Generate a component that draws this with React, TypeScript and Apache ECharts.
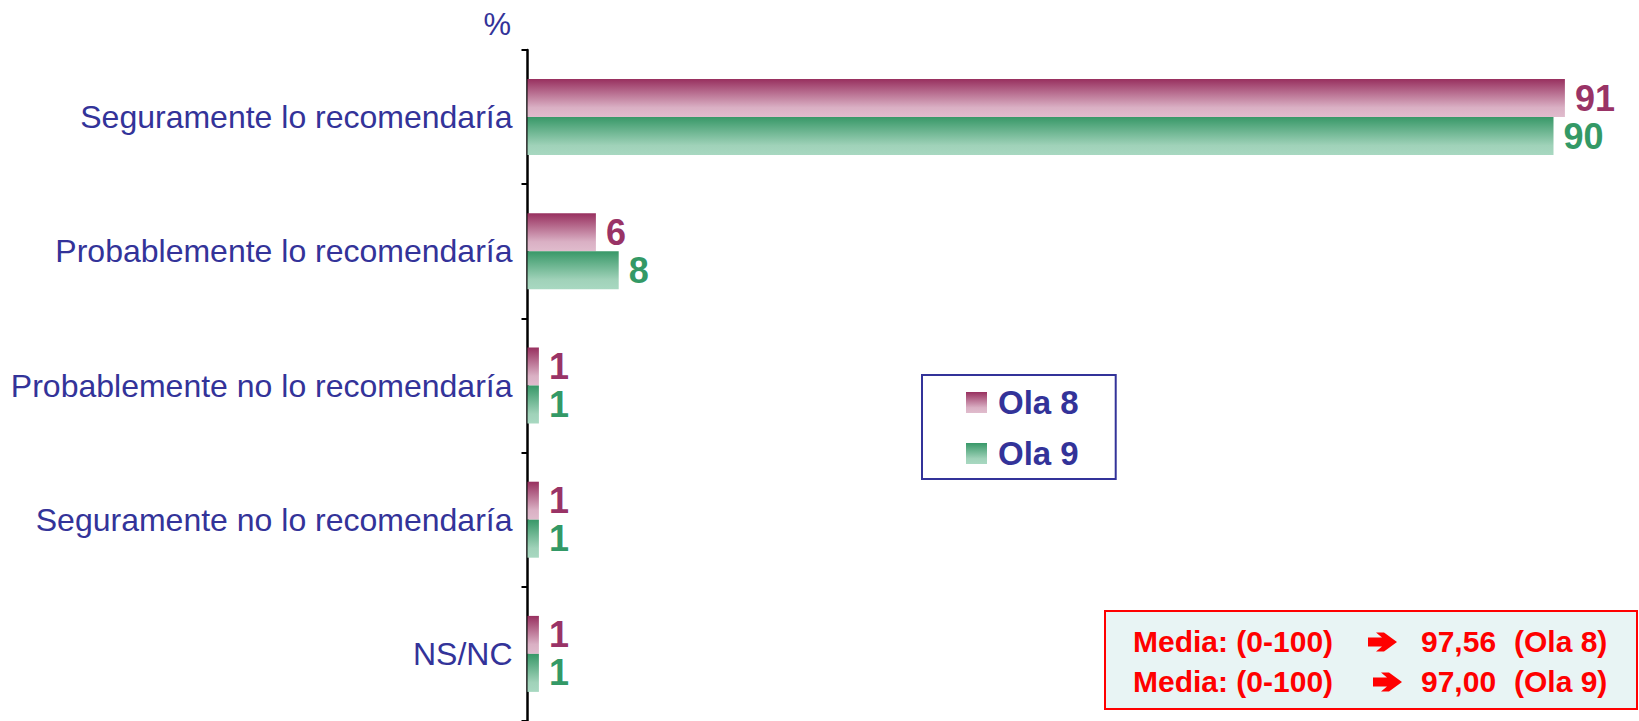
import React, { useEffect, useRef } from "react";
import * as echarts from "echarts";

// Survey answers, top to bottom
const categories = [
  "Seguramente lo recomendaría",
  "Probablemente lo recomendaría",
  "Probablemente no lo recomendaría",
  "Seguramente no lo recomendaría",
  "NS/NC",
];

const seriesNames = ["Ola 8", "Ola 9"];
const ola8 = [91, 6, 1, 1, 1];
const ola9 = [90, 8, 1, 1, 1];

// Mean score summary lines
const mediaLabel = "Media: (0-100)";
const mediaValues = ["97,56", "97,00"];
const mediaWaves = ["(Ola 8)", "(Ola 9)"];

const FONT = "'Liberation Sans', Arial, sans-serif";
const BLUE = "#333399";
const RED = "#ff0000";

const grad = (top: string, mid: string, bottom: string) =>
  new echarts.graphic.LinearGradient(0, 0, 0, 1, [
    { offset: 0, color: top },
    { offset: 0.75, color: mid },
    { offset: 1, color: bottom },
  ]);

// Heavy right arrow, centred vertically on y = 0
const arrowPoints = [
  [0, -4.5], [14, -4.5], [8, -9.5], [16, -9.5], [29, 0],
  [16, 9.5], [8, 9.5], [14, 4.5], [0, 4.5],
];

export default function App() {
  const ref = useRef<HTMLDivElement>(null);

  useEffect(() => {
    if (!ref.current) return;
    const chart = echarts.init(ref.current, undefined, { renderer: "svg" });

    const mkSeries = (name: string, data: number[], colors: string[], labelColor: string) => ({
      name,
      type: "bar",
      data,
      barWidth: 38,
      barGap: "0%",
      itemStyle: { color: grad(colors[0], colors[1], colors[2]) },
      label: {
        show: true,
        position: "right",
        distance: 10,
        formatter: "{c}",
        color: labelColor,
        fontFamily: FONT,
        fontWeight: "bold",
        fontSize: 36,
      },
    });

    const mediaTexts: any[] = [];
    mediaValues.forEach((v, i) => {
      const y = 643 + i * 40;
      mediaTexts.push(
        {
          type: "text",
          left: 1133,
          top: y - 17,
          style: { text: mediaLabel, fill: RED, font: `bold 30px ${FONT}` },
        },
        {
          type: "polygon",
          x: 1368 + i * 5,
          y: y - 1,
          shape: { points: arrowPoints },
          style: { fill: RED },
        },
        {
          type: "text",
          left: 1421,
          top: y - 17,
          style: { text: v, fill: RED, font: `bold 30px ${FONT}` },
        },
        {
          type: "text",
          left: 1514,
          top: y - 17,
          style: { text: mediaWaves[i], fill: RED, font: `bold 30px ${FONT}` },
        }
      );
    });

    chart.setOption({
      animation: false,
      backgroundColor: "#ffffff",
      grid: { left: 527.5, top: 50, right: 0, height: 673 },
      xAxis: {
        type: "value",
        min: 0,
        max: 97.5,
        show: false,
      },
      yAxis: {
        type: "category",
        data: categories,
        inverse: true,
        axisLine: { show: true, lineStyle: { color: "#000000", width: 2.5 } },
        axisTick: { show: true, length: 6, lineStyle: { color: "#000000", width: 2 } },
        axisLabel: {
          margin: 15,
          color: BLUE,
          fontFamily: FONT,
          fontSize: 32,
        },
        splitLine: { show: false },
      },
      legend: {
        data: seriesNames,
        orient: "vertical",
        left: 922,
        top: 375,
        padding: [11, 37, 9, 44],
        itemGap: 18,
        itemWidth: 21,
        itemHeight: 21,
        icon: "rect",
        borderColor: BLUE,
        borderWidth: 2,
        backgroundColor: "#ffffff",
        textStyle: {
          color: BLUE,
          fontFamily: FONT,
          fontWeight: "bold",
          fontSize: 33,
          padding: [0, 0, 0, 6],
        },
      },
      series: [
        mkSeries(seriesNames[0], ola8, ["#98305f", "#dab0c4", "#e0bccd"], "#993366"),
        mkSeries(seriesNames[1], ola9, ["#389868", "#a0d2b9", "#a8d8c1"], "#339966"),
      ],
      graphic: [
        {
          type: "text",
          right: 1639 - 511,
          top: 9,
          style: { text: "%", fill: BLUE, font: `31px ${FONT}` },
        },
        {
          type: "rect",
          shape: { x: 1105, y: 611, width: 532, height: 98 },
          style: { fill: "#e8f4f4", stroke: RED, lineWidth: 2 },
        },
        ...mediaTexts,
      ],
    });

    return () => chart.dispose();
  }, []);

  return (
    <div
      ref={ref}
      style={{ position: "absolute", left: 0, top: 0, width: 1639, height: 721 }}
    />
  );
}
